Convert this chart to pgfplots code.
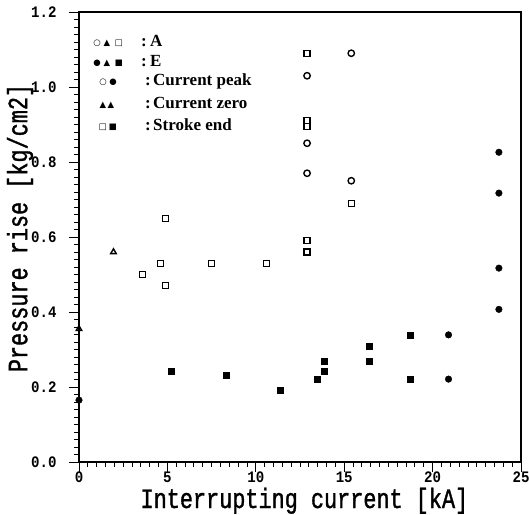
\documentclass[border=0pt]{standalone}
\usepackage{fontspec}
\setmainfont{Liberation Serif}
\setmonofont{Liberation Mono}
\newfontfamily\labelfont[FakeStretch=0.78, FakeBold=1.2]{Liberation Mono}
\newfontfamily\tickfont[FakeStretch=0.88]{Liberation Mono}
\newfontfamily\symfont{DejaVu Sans}
\usepackage{pgfplots}
\pgfplotsset{compat=1.18}

\begin{document}
\begin{tikzpicture}
\begin{axis}[
    scale only axis,
    width=442bp, height=450bp,
    xmin=0, xmax=25,
    ymin=0, ymax=1.2,
    xtick={0,5,10,15,20,25},
    ytick={0,0.2,0.4,0.6,0.8,1.0,1.2},
    minor x tick num=9,
    minor y tick num=9,
    tick align=outside,
    xtick pos=bottom, ytick pos=left,
    major tick length=10bp, minor tick length=5bp,
    every tick/.style={black, line width=0.9bp},
    axis line style={line width=1.3bp},
    /pgf/number format/assume math mode=true,
    yticklabel style={/pgf/number format/fixed, /pgf/number format/fixed zerofill,
        /pgf/number format/precision=1, xshift=-9bp},
    tick label style={font=\fontsize{16bp}{18bp}\selectfont\tickfont\bfseries},
    xticklabel style={yshift=4bp},
    xlabel={Interrupting current [kA]},
    ylabel={Pressure rise [kg/cm2]},
    label style={font=\fontsize{28bp}{30bp}\selectfont\labelfont, inner sep=0pt},
    xlabel style={at={(axis description cs:0.51,0)}, anchor=base, yshift=-46bp},
    ylabel style={at={(axis description cs:0,0.52)}, anchor=center, yshift=59bp},
    clip=false,
]
% A: open marks
\addplot[only marks, mark=o, mark size=3.2bp, line width=1.4bp, black]
    coordinates {(12.9,1.03)(12.9,0.85)(12.9,0.77)(15.4,1.09)(15.4,0.75)};
\addplot[only marks, mark=square, mark size=3bp, line width=1.4bp, black]
    coordinates {(12.9,1.09)(12.9,0.91)(12.9,0.895)(12.9,0.59)(12.9,0.56)
    (15.4,0.69)(4.9,0.65)(4.6,0.53)(7.5,0.53)(10.6,0.53)(3.6,0.50)(4.9,0.47)};
\addplot[only marks, mark=triangle, mark size=3.2bp, line width=1.4bp, black]
    coordinates {(1.95,0.56)(0,0.355)};
% E: filled marks
\addplot[only marks, mark=*, mark size=3.3bp, black]
    coordinates {(0,0.165)(23.75,0.826)(23.75,0.717)(23.75,0.517)(23.75,0.407)
    (20.9,0.339)(20.9,0.221)};
\addplot[only marks, mark=square*, mark size=3bp, black]
    coordinates {(5.2,0.241)(8.3,0.232)(11.4,0.191)(13.45,0.221)(13.85,0.241)
    (13.85,0.270)(16.4,0.270)(16.4,0.309)(18.75,0.339)(18.75,0.221)};

% legend
\begin{scope}[every node/.style={inner sep=0pt}]
\def\sym#1#2#3{\node[font=\symfont\fontsize{8.5bp}{8.5bp}\selectfont]
    at (axis description cs:0,1) [xshift=#1bp, yshift=#2bp] {#3};}
\def\txt#1#2#3{\node[anchor=west, text height=11bp, text depth=3bp,
    font=\fontsize{17bp}{20bp}\selectfont\bfseries]
    at (axis description cs:0,1) [xshift=#1bp, yshift=#2bp] {#3};}
\sym{18}{-31}{○}\sym{28}{-31}{▲}\sym{40}{-31}{□}
\txt{62}{-31}{:}\txt{71}{-31}{A}
\sym{18}{-51}{●}\sym{28}{-51}{▲}\sym{40}{-51}{■}
\txt{62}{-51}{:}\txt{71}{-51}{E}
\sym{24}{-70}{○}\sym{34}{-70}{●}
\txt{66}{-70}{:}\txt{74}{-70}{Current peak}
\sym{24}{-93}{▲}\sym{32}{-93}{▲}
\txt{66}{-93}{:}\txt{74}{-93}{Current zero}
\sym{24}{-115}{□}\sym{34}{-115}{■}
\txt{66}{-115}{:}\txt{74}{-115}{Stroke end}
\end{scope}
\end{axis}
\pgfresetboundingbox
\path[use as bounding box]
    ([shift={(-79bp,-53bp)}]current axis.south west)
    rectangle ([shift={(8bp,12bp)}]current axis.north east);
\end{tikzpicture}
\end{document}
